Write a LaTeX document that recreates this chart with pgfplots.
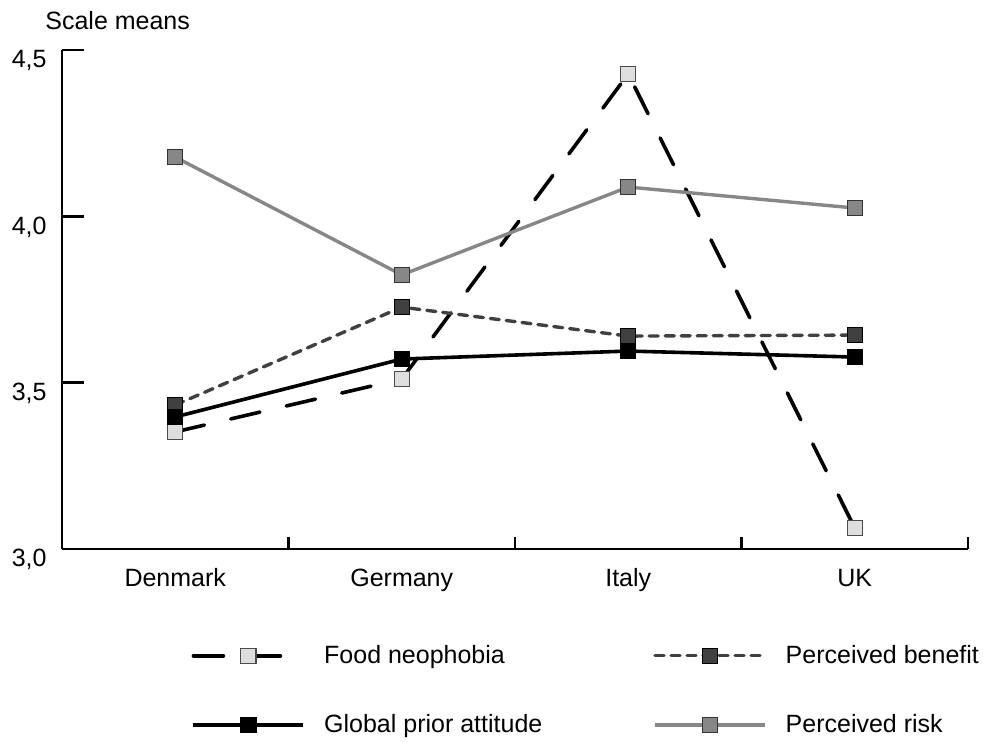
\documentclass[border=0pt]{standalone}
\usepackage{fontspec}
\setmainfont{Liberation Sans}
\usepackage{pgfplots}
\pgfplotsset{compat=1.18}
\newcommand{\fs}{\fontsize{12.5bp}{14bp}\selectfont}
\begin{document}
\begin{tikzpicture}[font=\fs]
\begin{axis}[
  scale only axis, width=453bp, height=249.5bp,
  xmin=-0.5, xmax=3.5, ymin=3, ymax=4.5,
  clip=false,
  axis x line=bottom, axis y line=left,
  axis line style={-, line width=1.25bp, black},
  tick align=inside,
  xtick={0.5,1.5,2.5,3.5}, xticklabels={},
  extra x ticks={0,1,2,3},
  extra x tick labels={Denmark,Germany,Italy,UK},
  extra x tick style={tick style={draw=none}},
  xtick style={black, line width=1.25bp, /pgfplots/major tick length=6bp},
  ytick={3,3.5,4,4.5},
  ytick style={black, line width=1.25bp, /pgfplots/major tick length=11bp},
  yticklabel style={anchor=north east, inner sep=0pt, xshift=-7.5bp, font=\fs},
  xticklabel style={anchor=base, yshift=-18.5bp, font=\fs},
  /pgf/number format/.cd, use comma, fixed, fixed zerofill, precision=1, assume math mode=true,
  /pgfplots/.cd,
  legend columns=2, legend cell align=left,
  legend style={draw=none, fill=none, font=\fs, at={(0.136,-0.176)}, anchor=north west,
    row sep=20bp, /tikz/every odd column/.append style={column sep=7.5bp},
    /tikz/every even column/.append style={column sep=53.5bp}},
  legend image code/.code={\draw[mark repeat=2,mark phase=2] plot coordinates {(0bp,0bp) (27.5bp,0bp) (55bp,0bp)};},
]
\addplot[black, line width=1.8bp, dash pattern=on 15bp off 13.5bp, line cap=round,
  mark=square*, mark size=3.8bp, mark options={solid, fill=black!13, draw=black!70, line width=0.6bp}]
  coordinates {(0,3.352) (1,3.511) (2,4.428) (3,3.063)};
\addplot[black!75, line width=1.7bp, dash pattern=on 4.5bp off 3.5bp, line cap=round,
  mark=square*, mark size=3.8bp, mark options={solid, fill=black!75, draw=black, line width=0.6bp}]
  coordinates {(0,3.433) (1,3.727) (2,3.640) (3,3.643)};
\addplot[black, line width=1.8bp,
  mark=square*, mark size=3.8bp, mark options={solid, fill=black, draw=black, line width=0.6bp}]
  coordinates {(0,3.397) (1,3.571) (2,3.595) (3,3.577)};
\addplot[black!47, line width=1.7bp,
  mark=square*, mark size=3.8bp, mark options={solid, fill=black!47, draw=black!80, line width=0.6bp}]
  coordinates {(0,4.178) (1,3.824) (2,4.088) (3,4.025)};
\legend{Food neophobia, Perceived benefit, Global prior attitude, Perceived risk}
\coordinate (O) at (rel axis cs:0,0);
\node[anchor=base west, inner sep=0pt, xshift=-8.5bp, yshift=10bp] at (rel axis cs:0,1) {Scale means};
\end{axis}
\pgfresetboundingbox
\path[use as bounding box] (O) ++(-31bp,-97bp) rectangle ++(491.5bp,371.5bp);
\end{tikzpicture}
\end{document}
